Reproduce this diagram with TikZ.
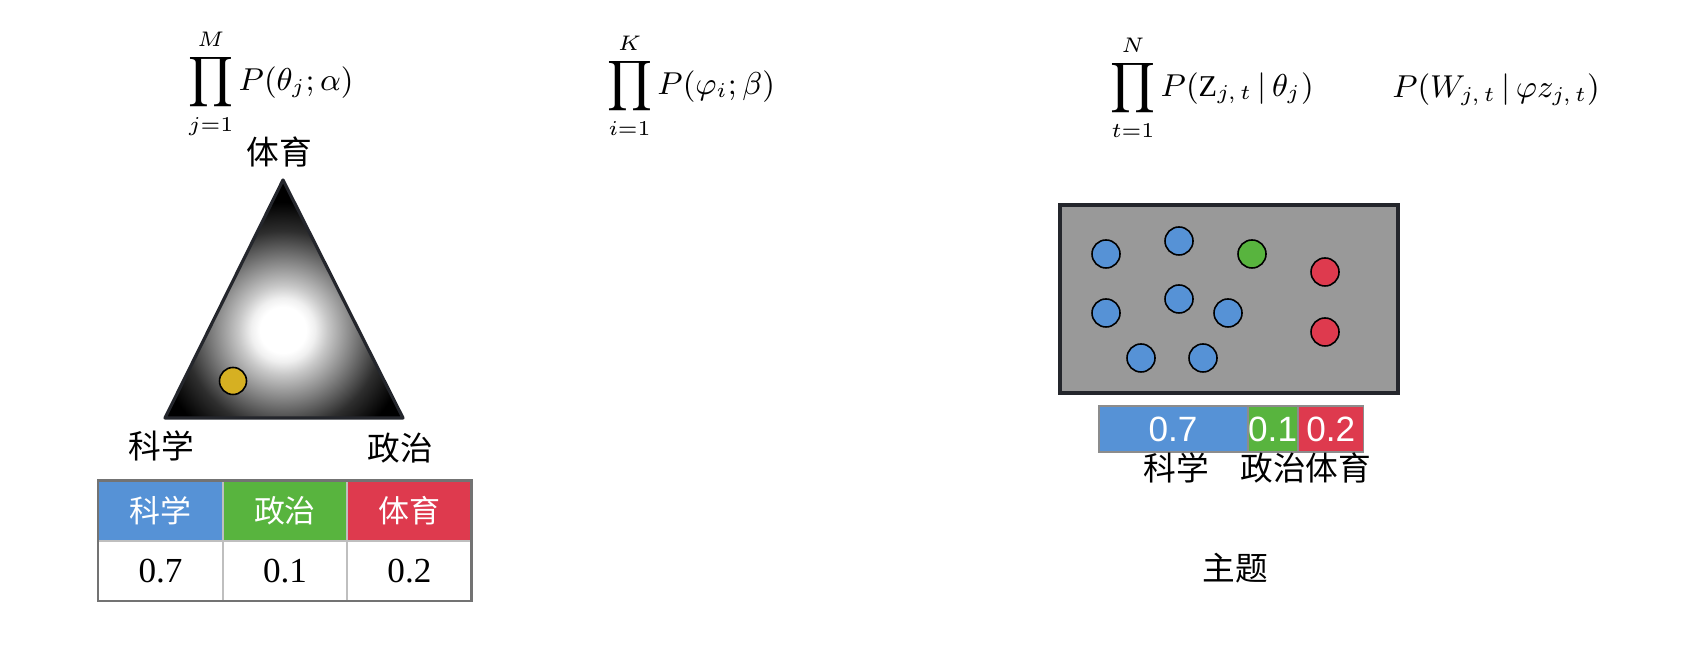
\documentclass[tikz,border=0pt]{standalone}
\usepackage{fontspec}
\setmainfont{Liberation Serif}
\setsansfont{Liberation Sans}
\newfontfamily\cjk{Noto Sans CJK SC}
\usepackage{tikz}
\usetikzlibrary{positioning}
\definecolor{topicblue}{RGB}{86,146,214}
\definecolor{topicgreen}{RGB}{88,180,62}
\definecolor{topicred}{RGB}{222,58,78}
\definecolor{topicyellow}{RGB}{214,176,34}
\definecolor{docgray}{RGB}{153,153,153}
\definecolor{edge}{RGB}{36,38,44}
\pgfdeclareradialshading{glow}{\pgfpoint{0bp}{0bp}}{%
  color(0bp)=(white); color(3.6bp)=(white); color(5bp)=(white!94!black);
  color(7bp)=(white!78!black); color(11bp)=(white!50!black);
  color(15.5bp)=(white!18!black); color(20bp)=(black); color(50bp)=(black)}
\tikzset{
  formula/.style={font=\fontsize{8.6}{10}\selectfont, inner sep=0pt},
  lbl/.style={font=\cjk\fontsize{9.3}{11}\selectfont, inner sep=0pt},
  % 表格
  cell/.style={minimum width=1.23cm, minimum height=0.59cm, inner sep=0pt},
  head/.style={cell, text=white, font=\cjk\fontsize{8.8}{10}\selectfont},
  val/.style={cell, font=\fontsize{10}{12}\selectfont},
  % 文档中的词
  dot/.style={circle, draw=black, line width=0.45pt, minimum size=0.28cm, inner sep=0pt},
  seg/.style={draw=black!45, line width=0.3pt, minimum height=0.46cm, inner sep=0pt,
    text=white, font=\sffamily\fontsize{10}{12}\selectfont}
}
\begin{document}
\begin{tikzpicture}[x=0.01cm, y=-0.01cm]
  \useasboundingbox (0,0) rectangle (1704,662);

  % 公式
  \node[formula] (pa) at (271,84) {$\displaystyle\prod_{j=1}^{M}P(\theta_{j};\alpha)$};
  \node[formula] (pb) at (691,86) {$\displaystyle\prod_{i=1}^{K}P(\varphi_{i};\beta)$};
  \node[formula] (pc) at (1212,88) {$\displaystyle\prod_{t=1}^{N}P(\mathrm{Z}_{j,\,t}\,|\,\theta_{j})$};
  \node[formula] (pd) at (1496,90) {$P(W_{j,\,t}\,|\,\varphi z_{j,\,t})$};

  % Dirichlet 三角形
  \coordinate (apex) at (283,180);
  \coordinate (bl) at (165,418);
  \coordinate (br) at (403,418);
  \begin{scope}
    \clip (apex) -- (bl) -- (br) -- cycle;
    \shade[shading=glow] (283,330) circle[radius=160];
  \end{scope}
  \draw[edge, line width=0.9pt, line join=round] (apex) -- (bl) -- (br) -- cycle;
  \node[dot, fill=topicyellow, minimum size=0.27cm] (theta) at (233,381) {};
  \node[lbl] (tsport) at (279,152) {体育};
  \node[lbl] (tsci) at (161,446) {科学};
  \node[lbl] (tpol) at (400,448) {政治};

  % 主题分布表
  \node[head, fill=topicblue] (h1) at (160.5,510.5) {科学};
  \node[head, fill=topicgreen, right=0pt of h1] (h2) {政治};
  \node[head, fill=topicred, right=0pt of h2] (h3) {体育};
  \node[val, below=0pt of h1] (v1) {0.7};
  \node[val, below=0pt of h2] (v2) {0.1};
  \node[val, below=0pt of h3] (v3) {0.2};
  \draw[black!25, line width=0.5pt] (h2.north west) -- (v2.south west)
    (h3.north west) -- (v3.south west) (v1.north west) -- (v3.north east);
  \draw[black!55, line width=0.7pt] (h1.north west) rectangle (v3.south east);

  % 文档
  \node[draw=edge, line width=1.2pt, fill=docgray, minimum width=3.38cm,
    minimum height=1.88cm] (doc) at (1229,299) {};
  \foreach \n/\x/\y in {a/1106/254, b/1179/241, c/1106/313, d/1179/299,
      e/1228/313, f/1141/358, g/1203/358}
    \node[dot, fill=topicblue] (w\n) at (\x,\y) {};
  \node[dot, fill=topicgreen] (wh) at (1252,254) {};
  \node[dot, fill=topicred] (wi) at (1325,272) {};
  \node[dot, fill=topicred] (wj) at (1325,332) {};

  % 比例条
  \node[seg, fill=topicblue, minimum width=1.48cm] (s1) at (1173,429) {0.7};
  \node[seg, fill=topicgreen, minimum width=0.49cm, right=0pt of s1] (s2) {0.1};
  \node[seg, fill=topicred, minimum width=0.65cm, right=0pt of s2] (s3) {0.2};
  \node[lbl] (bsci) at (1176,468) {科学};
  \node[lbl] (bpol) at (1273,468) {政治};
  \node[lbl] (bsport) at (1338,468) {体育};

  \node[lbl] (topic) at (1235,568) {主题};
\end{tikzpicture}
\end{document}
